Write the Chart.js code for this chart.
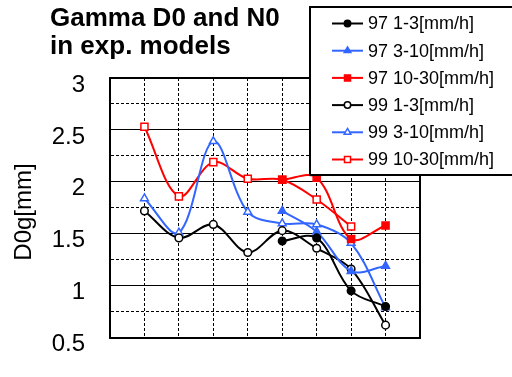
<!DOCTYPE html>
<html>
<head>
<meta charset="utf-8">
<script src="https://cdn.jsdelivr.net/npm/chart.js@4/dist/chart.umd.min.js"></script>
<style>
  html, body { margin: 0; padding: 0; background: #fff; }
  #wrap { width: 512px; height: 377px; }
</style>
</head>
<body>
<div id="wrap"><canvas id="chart" width="512" height="377"></canvas></div>
<script>
// x positions of the measurement classes (axis runs 0..9)
const xPos = [1, 2, 3, 4, 5, 6, 7, 8];

// D0 values [mm] per rain-rate class
const d97_1_3   = [null, null, null, null, 1.43, 1.46, 0.95, 0.80];
const d97_3_10  = [null, null, null, null, 1.72, 1.52, 1.14, 1.19];
const d97_10_30 = [null, null, null, null, 2.02, 2.04, 1.45, 1.58];
const d99_1_3   = [1.72, 1.46, 1.59, 1.32, 1.53, 1.36, 1.16, 0.62];
const d99_3_10  = [1.84, 1.51, 2.39, 1.71, 1.60, 1.59, 1.41, 0.79];
const d99_10_30 = [2.53, 1.86, 2.19, 2.03, 2.02, 1.83, 1.57, null];

const seriesLabels = ['97 1-3[mm/h]', '97 3-10[mm/h]', '97 10-30[mm/h]',
                      '99 1-3[mm/h]', '99 3-10[mm/h]', '99 10-30[mm/h]'];

const titleLines = ['Gamma D0 and N0', 'in exp. models'];
const yTitle = 'D0g[mm]';

const BLACK = '#000000';
const BLUE = '#3366ff';
const RED = '#ff0000';

function pts(arr) {
  return xPos.map((x, i) => ({ x: x, y: arr[i] }));
}

const markerRadius = { circle: 3.8, triangle: 4.5, rect: 5 };

function series(label, arr, color, style, filled) {
  return {
    label: label,
    data: pts(arr),
    borderColor: color,
    borderWidth: 2,
    pointStyle: style,
    pointRadius: markerRadius[style],
    pointBorderWidth: 1.5,
    pointBorderColor: color,
    pointBackgroundColor: filled ? color : '#ffffff',
    tension: 0.35,
    spanGaps: false,
    fill: false
  };
}

const datasets = [
  series(seriesLabels[0], d97_1_3, BLACK, 'circle', true),
  series(seriesLabels[1], d97_3_10, BLUE, 'triangle', true),
  series(seriesLabels[2], d97_10_30, RED, 'rect', true),
  series(seriesLabels[3], d99_1_3, BLACK, 'circle', false),
  series(seriesLabels[4], d99_3_10, BLUE, 'triangle', false),
  series(seriesLabels[5], d99_10_30, RED, 'rect', false)
];

const isHalf = (v) => Math.abs(v * 2 - Math.round(v * 2)) < 1e-6;

// title, rotated y title and the boxed legend sitting over the plot
const decorations = {
  id: 'decorations',
  afterDraw(chart) {
    const ctx = chart.ctx;
    ctx.save();
    ctx.fillStyle = '#000';
    ctx.font = 'bold 26px "Liberation Sans", Arial, sans-serif';
    ctx.textAlign = 'left';
    ctx.textBaseline = 'alphabetic';
    ctx.fillText(titleLines[0], 50, 26);
    ctx.fillText(titleLines[1], 50, 54);

    ctx.save();
    ctx.translate(31, 212);
    ctx.rotate(-Math.PI / 2);
    ctx.font = '24px "Liberation Sans", Arial, sans-serif';
    ctx.textAlign = 'center';
    ctx.fillText(yTitle, 0, 0);
    ctx.restore();

    // legend box
    ctx.fillStyle = '#fff';
    ctx.fillRect(310, 7, 210, 168);
    ctx.strokeStyle = '#000';
    ctx.lineWidth = 2;
    ctx.strokeRect(310, 7, 210, 168);

    ctx.font = '18px "Liberation Sans", Arial, sans-serif';
    ctx.textBaseline = 'middle';
    chart.data.datasets.forEach((ds, i) => {
      const y = 23.5 + i * 27.2;
      ctx.strokeStyle = ds.borderColor;
      ctx.lineWidth = 2;
      ctx.beginPath();
      ctx.moveTo(332, y);
      ctx.lineTo(363, y);
      ctx.stroke();
      ctx.fillStyle = ds.pointBackgroundColor;
      ctx.lineWidth = ds.pointBorderWidth;
      Chart.helpers.drawPoint(ctx, {
        pointStyle: ds.pointStyle,
        radius: ds.pointRadius * 0.85,
        rotation: 0,
        borderWidth: ds.pointBorderWidth
      }, 347.5, y);
      ctx.fillStyle = '#000';
      ctx.fillText(ds.label, 368, y + 1);
    });
    ctx.restore();
  }
};

new Chart(document.getElementById('chart'), {
  type: 'line',
  data: { datasets: datasets },
  plugins: [decorations],
  options: {
    responsive: false,
    animation: false,
    events: [],
    layout: { padding: { top: 78, right: 92, bottom: 22, left: 0 } },
    plugins: {
      legend: { display: false },
      title: { display: false },
      tooltip: { enabled: false }
    },
    scales: {
      x: {
        type: 'linear',
        min: 0,
        max: 9,
        ticks: { display: false, stepSize: 1, autoSkip: false },
        grid: {
          drawTicks: false,
          color: '#000',
          lineWidth: (c) => (c.tick && (c.tick.value === 0 || c.tick.value === 9)) ? 2 : 1
        },
        border: {
          display: true,
          color: '#000',
          width: 2,
          dash: (c) => (!c.tick || c.tick.value === 0 || c.tick.value === 9) ? [] : [3, 2]
        },
        afterFit: (s) => { s.height = 0; }
      },
      y: {
        min: 0.5,
        max: 3,
        ticks: {
          stepSize: 0.25,
          autoSkip: false,
          padding: 25,
          labelOffset: 7,
          color: '#000',
          font: { family: '"Liberation Sans", Arial, sans-serif', size: 24 },
          callback: (v) => isHalf(v) ? String(v) : ''
        },
        grid: {
          drawTicks: false,
          color: '#000',
          lineWidth: (c) => (c.tick && (c.tick.value === 0.5 || c.tick.value === 3)) ? 2 : 1
        },
        border: {
          display: true,
          color: '#000',
          width: 2,
          dash: (c) => (!c.tick || isHalf(c.tick.value)) ? [] : [3, 2]
        },
        afterFit: (s) => { s.width = 110; }
      }
    }
  }
});
</script>
</body>
</html>
